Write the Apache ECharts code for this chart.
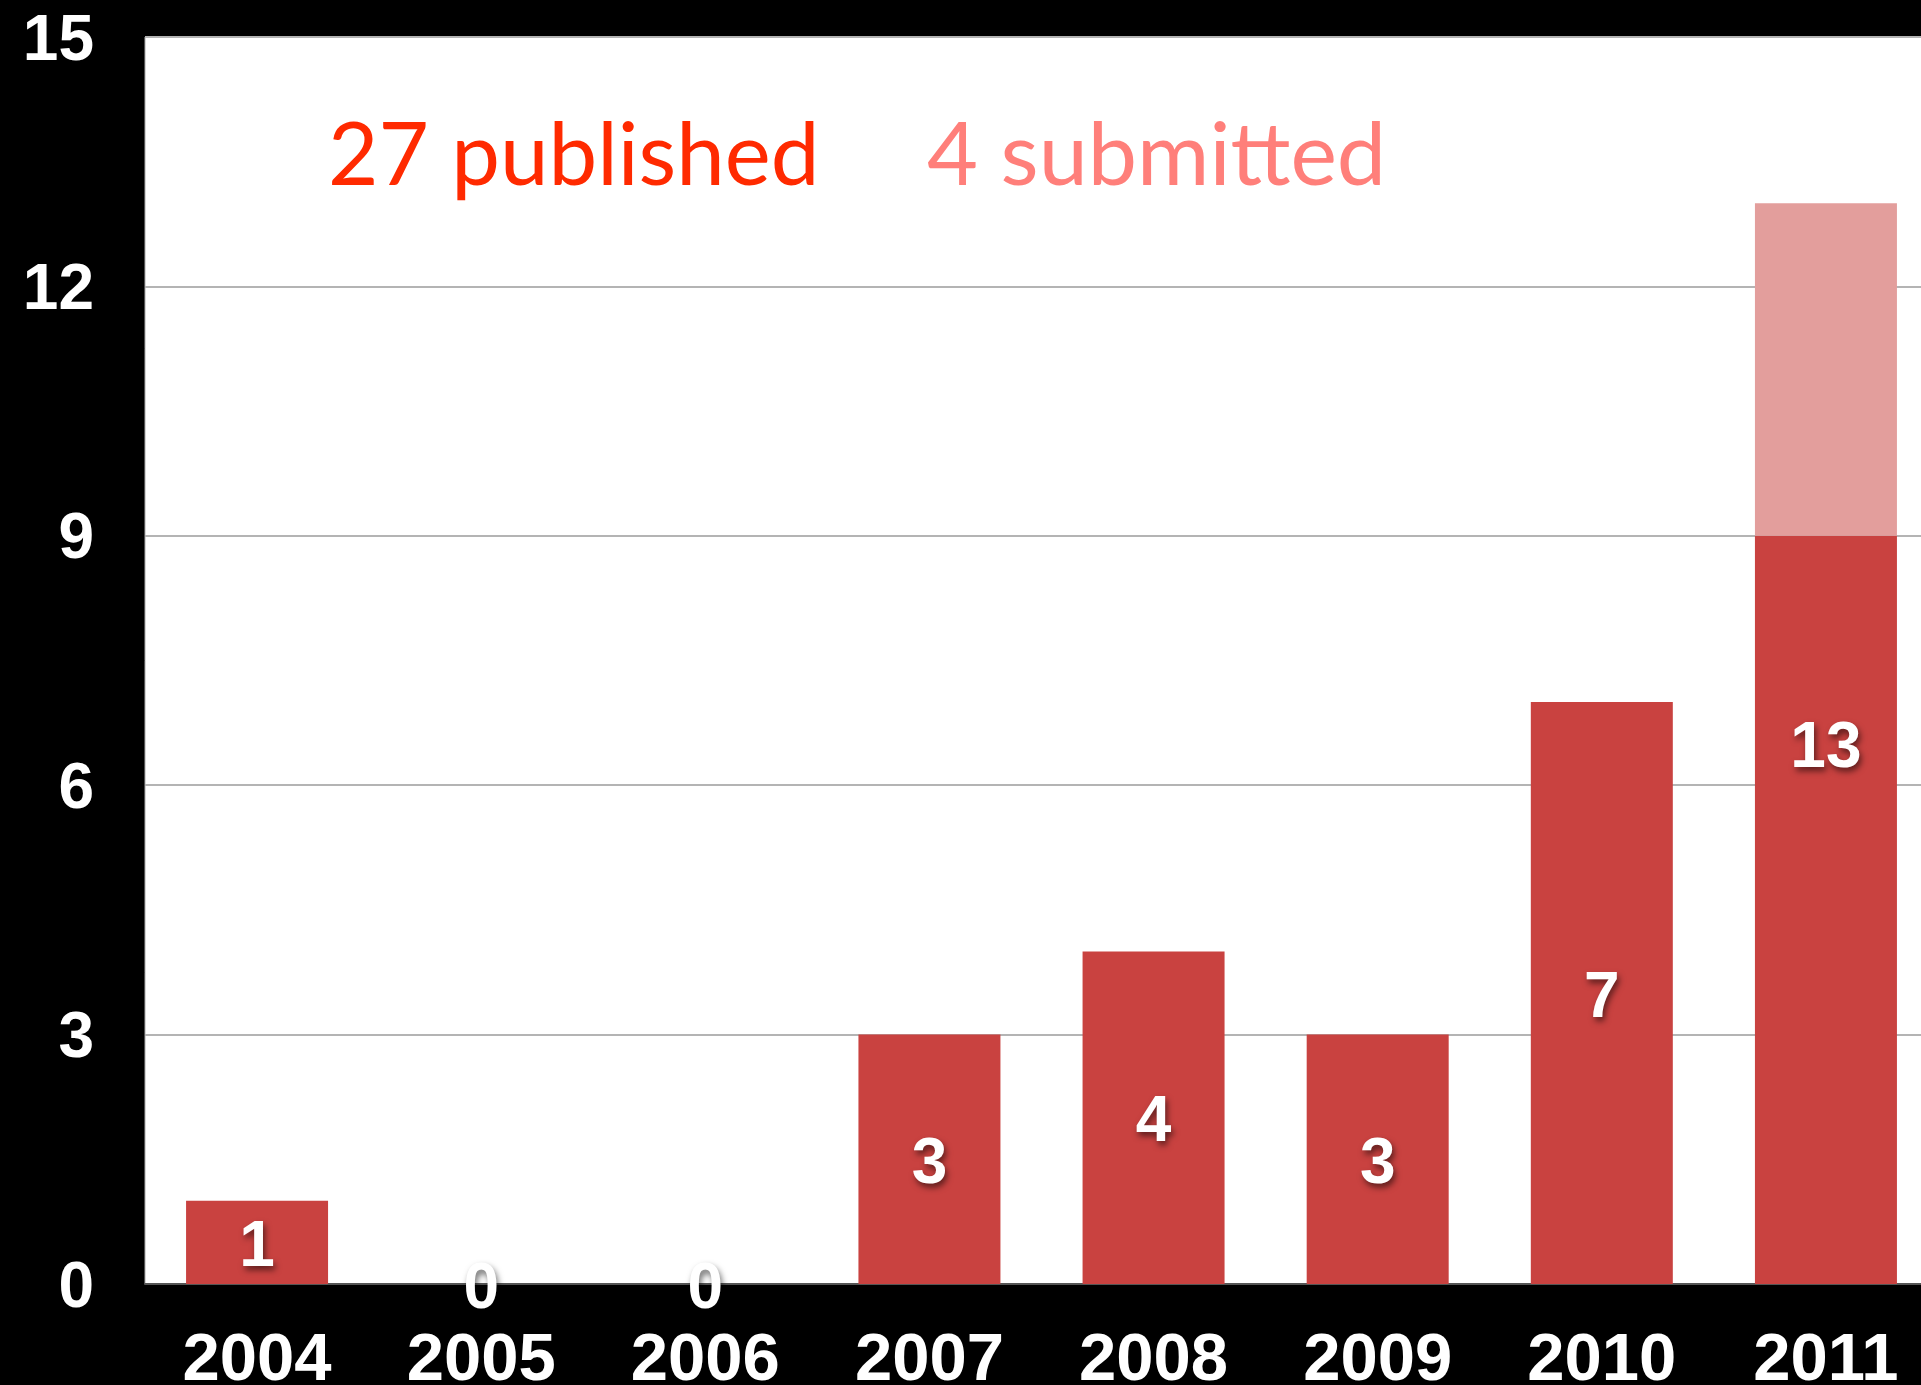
<!DOCTYPE html>
<html>
<head>
<meta charset="utf-8">
<title>Publications per year</title>
<script src="https://cdn.jsdelivr.net/npm/echarts@6/dist/echarts.min.js"></script>
<style>
  html, body { margin: 0; padding: 0; background: #000; }
  #chart { width: 1921px; height: 1385px; }
</style>
</head>
<body>
<div id="chart"></div>
<script>
// data
const years = ['2004', '2005', '2006', '2007', '2008', '2009', '2010', '2011']
const published = [1, 0, 0, 3, 4, 3, 7, 9]
const submitted = [0, 0, 0, 0, 0, 0, 0, 4]
const totals = published.map((v, i) => v + submitted[i])

const publishedText = published.reduce((a, b) => a + b, 0) + ' published'
const submittedText = submitted.reduce((a, b) => a + b, 0) + ' submitted'

const barRed = '#C94240'
const barPink = '#E39E9C'

const chart = echarts.init(document.getElementById('chart'))

const option = {
  backgroundColor: '#000',
  animation: false,
  grid: {
    left: 145,
    top: 37,
    width: 1793,
    bottom: 101,
    outerBoundsMode: 'none',
    show: true,
    backgroundColor: '#fff',
    borderColor: '#aaa',
    borderWidth: 1
  },
  graphic: [
    {
      type: 'text',
      x: 328,
      y: 157,
      style: {
        text: publishedText,
        fill: '#FF2A00',
        font: '87px Lato',
        verticalAlign: 'middle'
      }
    },
    {
      type: 'text',
      x: 927,
      y: 157,
      style: {
        text: submittedText,
        fill: '#FF7F7A',
        font: '88px Lato',
        verticalAlign: 'middle'
      }
    }
  ],
  xAxis: {
    type: 'category',
    data: years,
    axisLine: {
      lineStyle: { color: '#555', width: 2 }
    },
    axisTick: { show: false },
    axisLabel: {
      color: '#fff',
      fontFamily: 'Liberation Sans',
      fontWeight: 'bold',
      fontSize: 67,
      margin: 44
    }
  },
  yAxis: {
    type: 'value',
    min: 0,
    max: 15,
    interval: 3,
    axisLine: { show: false },
    axisTick: { show: false },
    axisLabel: {
      margin: 51,
      formatter: '{n|{value}}',
      rich: {
        n: {
          color: '#fff',
          fontFamily: 'Liberation Sans',
          fontWeight: 'bold',
          fontSize: 64,
          padding: [10, 0, 0, 0]
        }
      }
    },
    splitLine: {
      lineStyle: { color: '#b4b4b4', width: 2 }
    }
  },
  series: [
    {
      name: 'published',
      type: 'bar',
      stack: 'papers',
      barWidth: 142,
      barGap: '-100%',
      itemStyle: { color: barRed },
      data: published
    },
    {
      name: 'submitted',
      type: 'bar',
      stack: 'papers',
      barWidth: 142,
      barGap: '-100%',
      itemStyle: { color: barPink },
      data: submitted
    },
    {
      // transparent bar that only carries the total label
      name: 'total',
      type: 'bar',
      barWidth: 142,
      barGap: '-100%',
      z: 5,
      itemStyle: { color: 'rgba(0,0,0,0)' },
      label: {
        show: true,
        position: 'inside',
        offset: [0, 6],
        color: '#fff',
        fontFamily: 'Liberation Sans',
        fontWeight: 'bold',
        fontSize: 64,
        textShadowColor: 'rgba(0,0,0,0.55)',
        textShadowBlur: 6,
        textShadowOffsetX: 2,
        textShadowOffsetY: 4
      },
      data: totals
    }
  ]
}

chart.setOption(option)
</script>
</body>
</html>
